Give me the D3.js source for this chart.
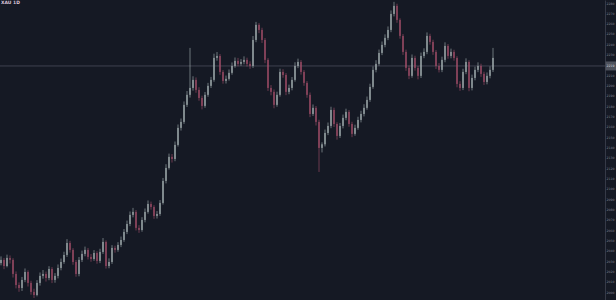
<!DOCTYPE html>
<html>
<head>
<meta charset="utf-8">
<script src="https://cdn.jsdelivr.net/npm/d3@7"></script>
<style>
  html, body { margin: 0; padding: 0; background: #151924; overflow: hidden; }
</style>
</head>
<body>
<script>
// candles as [open, high, low, close]
const candles = [
  [2028.0,2034.5,2025.8,2031.1],[2031.1,2033.0,2022.1,2025.2],[2025.2,2036.2,2023.9,2033.0],[2033.0,2035.4,2027.6,2031.1],
  [2031.1,2032.8,2014.0,2017.5],[2017.5,2019.9,2003.5,2006.8],[2006.8,2009.3,2000.2,2003.9],[2003.9,2014.6,2001.0,2011.7],
  [2011.7,2022.8,2009.5,2019.4],[2019.4,2021.0,2005.3,2008.8],[2008.8,2010.9,1997.4,2000.1],[2000.1,2003.2,1994.2,1997.1],
  [1997.1,2011.5,1995.8,2008.8],[2008.8,2018.9,2006.2,2015.6],[2015.6,2021.3,2012.9,2017.5],[2017.5,2019.8,2010.1,2013.6],
  [2013.6,2025.0,2011.4,2022.3],[2022.3,2024.1,2008.6,2011.7],[2011.7,2018.3,2009.0,2015.6],[2015.6,2026.7,2013.2,2023.3],
  [2023.3,2032.4,2021.0,2029.1],[2029.1,2039.0,2027.3,2035.9],[2035.9,2051.2,2034.0,2047.5],[2047.5,2049.6,2038.2,2040.8],
  [2040.8,2042.5,2026.4,2029.1],[2029.1,2031.0,2014.8,2017.5],[2017.5,2033.9,2015.2,2031.1],[2031.1,2040.1,2029.0,2036.9],
  [2036.9,2044.0,2034.6,2040.8],[2040.8,2042.7,2031.5,2034.0],[2034.0,2036.8,2029.3,2032.0],[2032.0,2040.6,2030.2,2037.8],
  [2037.8,2039.5,2027.4,2030.1],[2030.1,2041.9,2028.0,2038.8],[2038.8,2052.3,2036.9,2048.5],[2048.5,2050.0,2022.7,2025.2],
  [2025.2,2032.6,2023.0,2029.1],[2029.1,2045.4,2027.2,2042.7],[2042.7,2044.9,2038.1,2040.8],[2040.8,2048.3,2039.0,2045.6],
  [2045.6,2053.7,2043.5,2050.4],[2050.4,2061.0,2048.6,2058.2],[2058.2,2069.2,2056.1,2065.9],[2065.9,2078.0,2063.8,2074.7],
  [2074.7,2081.5,2072.3,2077.6],[2077.6,2079.4,2059.6,2062.1],[2062.1,2064.8,2057.3,2060.1],[2060.1,2072.5,2058.4,2069.8],
  [2069.8,2080.9,2067.5,2077.6],[2077.6,2088.7,2075.9,2085.3],[2085.3,2087.6,2079.8,2082.4],[2082.4,2084.1,2070.9,2073.7],
  [2073.7,2078.4,2071.2,2075.6],[2075.6,2089.1,2073.8,2086.3],[2086.3,2110.5,2084.7,2107.6],[2107.6,2123.8,2105.2,2120.2],
  [2120.2,2134.1,2118.6,2130.9],[2130.9,2133.7,2125.4,2128.9],[2128.9,2145.8,2126.7,2142.5],[2142.5,2162.3,2140.9,2159.0],
  [2159.0,2168.1,2156.4,2164.8],[2164.8,2184.6,2162.9,2181.3],[2181.3,2194.7,2179.2,2191.0],[2191.0,2236.5,2188.4,2197.7],
  [2197.7,2209.0,2195.1,2205.5],[2205.5,2207.9,2193.0,2195.8],[2195.8,2198.4,2185.3,2188.0],[2188.0,2190.2,2176.9,2180.3],
  [2180.3,2193.8,2178.5,2191.0],[2191.0,2202.6,2189.1,2199.7],[2199.7,2208.4,2197.6,2205.5],[2205.5,2230.9,2203.7,2226.8],
  [2226.8,2232.5,2224.1,2228.7],[2228.7,2230.6,2210.4,2213.2],[2213.2,2215.0,2201.8,2204.5],[2204.5,2209.7,2202.0,2206.5],
  [2206.5,2215.6,2204.8,2212.3],[2212.3,2222.4,2210.5,2219.0],[2219.0,2227.2,2217.3,2223.9],[2223.9,2226.8,2218.6,2221.0],
  [2221.0,2225.7,2219.2,2222.9],[2222.9,2228.3,2220.6,2224.9],[2224.9,2227.0,2218.4,2221.0],[2221.0,2223.5,2216.2,2219.0],
  [2219.0,2248.0,2217.1,2244.2],[2244.2,2261.7,2242.0,2258.8],[2258.8,2260.5,2250.8,2253.9],[2253.9,2256.0,2241.3,2244.2],
  [2244.2,2246.1,2221.7,2224.9],[2224.9,2226.6,2194.8,2197.7],[2197.7,2200.5,2190.6,2193.9],[2193.9,2196.2,2178.0,2181.3],
  [2181.3,2194.1,2179.5,2191.0],[2191.0,2216.4,2189.3,2213.2],[2213.2,2215.8,2207.6,2210.3],[2210.3,2212.1,2190.7,2193.9],
  [2193.9,2200.9,2191.6,2197.7],[2197.7,2208.3,2195.4,2205.5],[2205.5,2222.6,2203.8,2219.0],[2219.0,2226.1,2216.9,2222.9],
  [2222.9,2224.7,2210.6,2213.2],[2213.2,2215.0,2199.8,2202.6],[2202.6,2204.4,2188.2,2191.0],[2191.0,2193.3,2169.4,2172.5],
  [2172.5,2181.7,2170.6,2178.4],[2178.4,2180.2,2161.3,2164.8],[2164.8,2166.9,2116.3,2139.6],[2139.6,2145.0,2135.2,2143.1],
  [2143.1,2157.4,2141.0,2154.1],[2154.1,2164.2,2152.0,2160.9],[2160.9,2179.5,2158.7,2176.4],[2176.4,2178.6,2159.9,2162.8],
  [2162.8,2164.5,2147.6,2151.2],[2151.2,2163.8,2149.3,2160.9],[2160.9,2171.9,2158.5,2168.7],[2168.7,2177.6,2166.4,2174.5],
  [2174.5,2176.3,2160.1,2162.8],[2162.8,2164.9,2150.0,2153.2],[2153.2,2162.1,2151.4,2159.0],[2159.0,2169.8,2157.2,2166.7],
  [2166.7,2175.6,2164.3,2172.5],[2172.5,2181.9,2170.1,2178.4],[2178.4,2189.4,2176.6,2186.1],[2186.1,2201.8,2184.2,2198.7],
  [2198.7,2218.5,2196.9,2215.2],[2215.2,2224.6,2212.8,2221.0],[2221.0,2234.9,2219.3,2231.6],[2231.6,2242.7,2229.5,2239.4],
  [2239.4,2249.6,2237.1,2246.2],[2246.2,2257.3,2244.0,2253.9],[2253.9,2272.8,2251.7,2269.4],[2269.4,2281.1,2267.0,2277.2],
  [2277.2,2279.3,2260.8,2263.6],[2263.6,2265.2,2245.4,2248.1],[2248.1,2250.0,2229.7,2232.6],[2232.6,2234.8,2214.3,2217.1],
  [2217.1,2219.5,2206.2,2209.4],[2209.4,2230.1,2207.6,2226.8],[2226.8,2228.9,2214.5,2217.1],[2217.1,2219.0,2206.0,2209.4],
  [2209.4,2232.0,2207.3,2228.7],[2228.7,2236.1,2226.5,2232.6],[2232.6,2251.5,2230.4,2248.1],[2248.1,2250.2,2239.6,2242.3],
  [2242.3,2244.4,2229.8,2232.6],[2232.6,2234.5,2216.1,2219.0],[2219.0,2221.8,2212.7,2215.2],[2215.2,2228.0,2213.0,2224.9],
  [2224.9,2241.9,2222.6,2238.4],[2238.4,2240.3,2226.0,2228.7],[2228.7,2235.8,2226.4,2232.6],[2232.6,2234.7,2224.1,2226.8],
  [2226.8,2228.5,2198.3,2201.6],[2201.6,2204.2,2194.9,2197.7],[2197.7,2216.3,2195.6,2213.2],[2213.2,2226.4,2211.0,2222.9],
  [2222.9,2224.6,2194.5,2197.7],[2197.7,2210.6,2195.3,2207.4],[2207.4,2218.3,2205.1,2215.2],[2215.2,2222.5,2213.0,2219.0],
  [2219.0,2221.2,2208.4,2211.3],[2211.3,2213.4,2200.6,2203.5],[2203.5,2212.7,2201.2,2209.4],[2209.4,2218.6,2207.0,2215.2],
  [2215.2,2236.5,2213.1,2226.8]
];

const priceTicks = [2000,2010,2020,2030,2040,2050,2060,2070,2080,2090,2100,2110,2120,2130,2140,
                    2150,2160,2170,2180,2190,2200,2210,2220,2230,2240,2250,2260,2270,2280];
const levelPrice = 2219.0;
const symbolLabel = "XAU 1D";

function main() {
  const width = 616, height = 300;
  const axisX = 605;
  const upColor = "#aab5b7", downColor = "#a9506c";
  const fmt = d3.format("d");

  const svg = d3.select("body")
    .append("svg")
    .attr("width", width)
    .attr("height", height)
    .style("display", "block");

  svg.append("rect")
    .attr("width", width)
    .attr("height", height)
    .attr("fill", "#151924");

  // 3px per bar, leaves empty space to the right like the reference
  const x = d3.scaleLinear()
    .domain([0, 201])
    .range([1, 604]);

  const y = d3.scaleLinear()
    .domain([1992.25, 2282.9])
    .range([height, 0]);

  // horizontal level line
  svg.append("line")
    .attr("x1", 0)
    .attr("x2", axisX)
    .attr("y1", y(levelPrice))
    .attr("y2", y(levelPrice))
    .attr("stroke", "#5a5e6b")
    .attr("stroke-width", 0.6);

  const candle = svg.append("g")
    .selectAll("g")
    .data(candles)
    .join("g")
    .attr("transform", (d, i) => `translate(${x(i)},0)`);

  candle.append("line")
    .attr("y1", d => y(d[1]))
    .attr("y2", d => y(d[2]))
    .attr("stroke", d => d[3] >= d[0] ? upColor : downColor)
    .attr("stroke-width", 0.6);

  candle.append("rect")
    .attr("x", -0.6)
    .attr("width", 1.2)
    .attr("y", d => y(Math.max(d[0], d[3])))
    .attr("height", d => Math.max(0.6, Math.abs(y(d[0]) - y(d[3]))))
    .attr("fill", d => d[3] >= d[0] ? upColor : downColor);

  // right price axis
  const yAxis = d3.axisRight(y)
    .tickValues(priceTicks)
    .tickSize(0)
    .tickPadding(1.5)
    .tickFormat(fmt);

  const ax = svg.append("g")
    .attr("transform", `translate(${axisX},0)`)
    .call(yAxis);

  ax.select(".domain")
    .attr("stroke", "#3f4350")
    .attr("stroke-width", 0.8);

  ax.selectAll("text")
    .attr("fill", "#7d828d")
    .attr("font-family", "DejaVu Sans, sans-serif")
    .attr("font-size", 3.2);

  // level price tag
  svg.append("rect")
    .attr("x", axisX + 0.5)
    .attr("y", y(levelPrice) - 4.5)
    .attr("width", width - axisX)
    .attr("height", 9)
    .attr("fill", "#4e525d");

  svg.append("text")
    .attr("x", axisX + 1.5)
    .attr("y", y(levelPrice))
    .attr("dy", "0.35em")
    .attr("fill", "#d1d4dc")
    .attr("font-family", "DejaVu Sans, sans-serif")
    .attr("font-size", 3.2)
    .text(fmt(levelPrice));

  // symbol label top-left
  svg.append("text")
    .attr("x", 1)
    .attr("y", 4)
    .attr("fill", "#d9c3d6")
    .attr("font-family", "DejaVu Sans, sans-serif")
    .attr("font-size", 4.5)
    .attr("font-weight", "bold")
    .text(symbolLabel);
}

window.addEventListener("load", main);
</script>
</body>
</html>
